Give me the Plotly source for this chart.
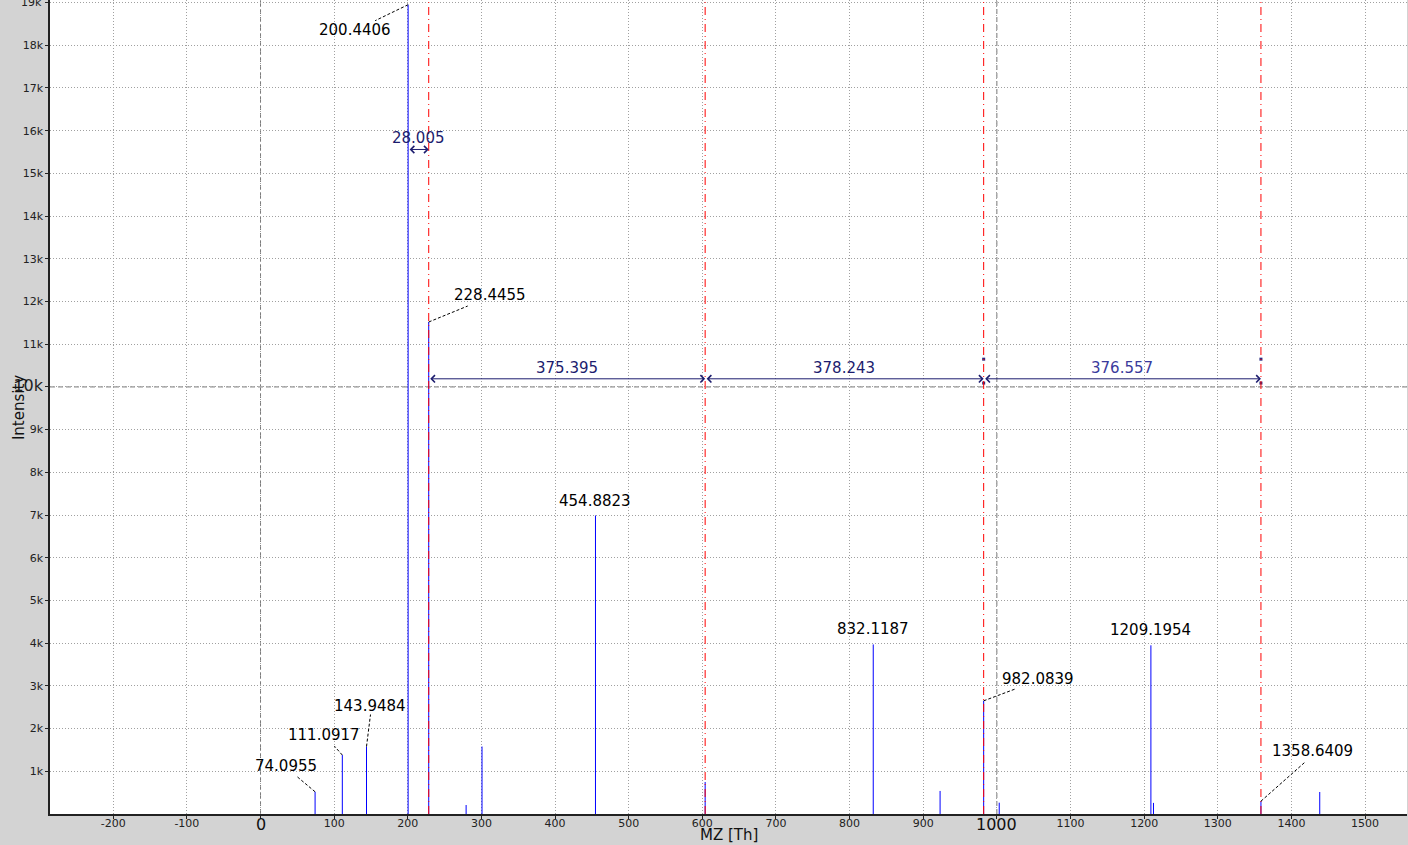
import plotly.graph_objects as go

# ---------------- data ----------------
peak_mz = [74.0955, 111.0917, 143.9484, 200.4406, 228.4455, 279.2, 300.8, 454.8823,
           603.84, 832.1187, 922.9, 982.0839, 1003.2, 1209.1954, 1212.7, 1358.6409, 1438.5]
peak_int = [520, 1380, 1580, 18950, 11520, 210, 1580, 6990,
            750, 3970, 540, 2650, 265, 3950, 260, 300, 515]

label_mz = [74.0955, 111.0917, 143.9484, 200.4406, 228.4455, 454.8823,
            832.1187, 982.0839, 1209.1954, 1358.6409]
label_int = [520, 1380, 1580, 18950, 11520, 6990, 3970, 2650, 3950, 300]
label_text = ["74.0955", "111.0917", "143.9484", "200.4406", "228.4455", "454.8823",
              "832.1187", "982.0839", "1209.1954", "1358.6409"]

# measurement markers (red dash-dot lines) and distances
marker_mz = [228.4455, 603.84, 982.0839, 1358.6409]
dist_text = ["375.395", "378.243", "376.557"]
small_dist_mz = [200.4406, 228.4455]
small_dist_text = "28.005"
meas_y = 10190
small_meas_y = 15560
handle_mz = [982.0839, 1358.6409]
handle_y = [10650, 10090]

x_ticks = list(range(-200, 1501, 100))
y_ticks = list(range(1000, 19001, 1000))
big_x_ticks = [0, 1000]

# ---------------- styles / positions ----------------
# pixel offsets for labels (text center) and leader-line end, relative to peak top
label_off = [(-29, 26), (-18, 20), (3, 41), (-53, -25), (61, 27), (0, 14),
             (0, 15), (54, 22), (0, 15), (52, 50)]
leader_off = [(-19, 16), (-8, 9), (4, 32), (-33, -16), (39, 16), None,
              None, (32, 12), None, (44, 39)]

FONT = "DejaVu Sans"
NAVY = "#1c1c6e"
GRID_DASH = "1px,2px"
REF_DASH = "5px,3px"
RED_DASH = "8px,4px,1px,4px"

fig = go.Figure()

# stems
xs, ys = [], []
for m, h in zip(peak_mz, peak_int):
    xs += [m, m, None]
    ys += [0, h, None]
fig.add_trace(go.Scatter(x=xs, y=ys, mode="lines", line=dict(color="#0000ff", width=1),
                         hoverinfo="skip", showlegend=False))

# handle squares
hx, hy = [], []
for m in handle_mz:
    for yv in handle_y:
        hx.append(m)
        hy.append(yv)
fig.add_trace(go.Scatter(x=hx, y=hy, mode="markers",
                         marker=dict(symbol="square", size=3, color="#2a2a80"),
                         hoverinfo="skip", showlegend=False))

shapes = []
# dashed reference lines
shapes.append(dict(type="line", xref="x", yref="paper", x0=0, x1=0, y0=0, y1=1,
                   line=dict(color="#7a7a7a", width=1, dash=REF_DASH), layer="below"))
shapes.append(dict(type="line", xref="x", yref="paper", x0=1000, x1=1000, y0=0, y1=1,
                   line=dict(color="#7a7a7a", width=1, dash=REF_DASH), layer="below"))
shapes.append(dict(type="line", xref="paper", yref="y", x0=0, x1=1, y0=10000, y1=10000,
                   line=dict(color="#7a7a7a", width=1, dash=REF_DASH), layer="below"))
# red dash-dot marker lines
for m in marker_mz:
    shapes.append(dict(type="line", xref="x", yref="paper", x0=m, x1=m, y0=0, y1=1,
                       line=dict(color="#ff0000", width=1, dash=RED_DASH)))
# leader lines
for m, h, off in zip(label_mz, label_int, leader_off):
    if off is None:
        continue
    shapes.append(dict(type="line", xref="x", yref="y", xsizemode="pixel", ysizemode="pixel",
                       xanchor=m, yanchor=h, x0=0, y0=0, x1=off[0], y1=off[1],
                       line=dict(color="black", width=1, dash="3px,2px")))

annotations = []
# peak labels
for m, h, t, off in zip(label_mz, label_int, label_text, label_off):
    annotations.append(dict(x=m, y=h, xref="x", yref="y", text=t, showarrow=False,
                            xshift=off[0], yshift=off[1],
                            font=dict(family=FONT, size=15, color="black")))

# measurement arrows
def add_arrow(x0, x1, yv, txt, col):
    annotations.append(dict(x=x1, y=yv, ax=x0, ay=yv, xref="x", yref="y", axref="x", ayref="y",
                            text="", showarrow=True, arrowside="end+start", arrowhead=4,
                            startarrowhead=4, arrowsize=1.4, startarrowsize=1.4,
                            arrowwidth=1, arrowcolor=NAVY, standoff=0, startstandoff=0))
    annotations.append(dict(x=(x0 + x1) / 2, y=yv, xref="x", yref="y", text=txt, showarrow=False,
                            yshift=11, font=dict(family=FONT, size=15, color=col)))

cols = [NAVY, NAVY, "#3a3a9c"]
for i in range(3):
    add_arrow(marker_mz[i], marker_mz[i + 1], meas_y, dist_text[i], cols[i])
add_arrow(small_dist_mz[0], small_dist_mz[1], small_meas_y, small_dist_text, NAVY)

# big x tick labels (0 and 1000)
for v in big_x_ticks:
    annotations.append(dict(x=v, y=-0.0135, xref="x", yref="paper", text=str(v), showarrow=False,
                            yanchor="middle", font=dict(family=FONT, size=16, color="#111")))
# top (partially cut) 19k label
annotations.append(dict(x=-0.0044, y=y_ticks[-1], xref="paper", yref="y", text="19k",
                        showarrow=False, xanchor="right", yanchor="middle",
                        font=dict(family=FONT, size=11, color="#222")))

# axis titles
annotations.append(dict(x=0.5004, y=-0.026, xref="paper", yref="paper", text="MZ [Th]",
                        showarrow=False, font=dict(family=FONT, size=15, color="#111"),
                        yanchor="middle"))
annotations.append(dict(x=-0.0305, y=0.4994, xref="paper", yref="paper", text="Intensity",
                        showarrow=False, textangle=-90, font=dict(family=FONT, size=15, color="#111")))

def big(s):
    return '<span style="font-size:16px">' + s + '</span>'

x_text = ["" if v in big_x_ticks else str(v) for v in x_ticks]
y_text = [big(f"{v // 1000}k") if v == 10000 else f"{v // 1000}k" for v in y_ticks]

fig.update_layout(
    width=1408, height=845,
    margin=dict(l=50, r=1, t=0, b=31),
    paper_bgcolor="#d3d3d3", plot_bgcolor="white",
    font=dict(family=FONT, size=11, color="#222"),
    shapes=shapes, annotations=annotations, showlegend=False,
    xaxis=dict(range=[-285.9, 1557], tickvals=x_ticks, ticktext=x_text,
               showgrid=True, gridcolor="#a0a0a0", griddash=GRID_DASH, gridwidth=1,
               zeroline=False, showline=True, linecolor="#222", linewidth=1.5,
               ticks="outside", ticklen=3, tickcolor="#222", tickfont=dict(size=11),
               ticklabelstandoff=-5, fixedrange=True),
    yaxis=dict(range=[0, 19060], tickvals=y_ticks, ticktext=y_text,
               showgrid=True, gridcolor="#a0a0a0", griddash=GRID_DASH, gridwidth=1,
               zeroline=False, showline=True, linecolor="#222", linewidth=1.5,
               ticks="outside", ticklen=3, tickcolor="#222", tickfont=dict(size=11),
               fixedrange=True),
)

fig.write_html("out.html", config={"displayModeBar": False},
               post_script="document.body.style.margin='0';document.body.style.overflow='hidden';")
